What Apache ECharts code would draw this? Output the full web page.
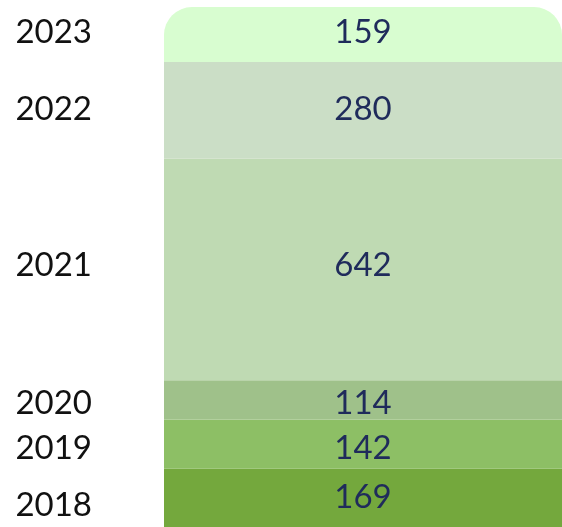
<!DOCTYPE html>
<html>
<head>
<meta charset="utf-8">
<script src="https://cdn.jsdelivr.net/npm/echarts@6/dist/echarts.min.js"></script>
<style>
  html, body { margin: 0; padding: 0; background: #fff; }
  #chart { width: 562px; height: 527px; }
</style>
</head>
<body>
<div id="chart"></div>
<script>
// bottom to top
var years = ['2018', '2019', '2020', '2021', '2022', '2023'];
var values = [169, 142, 114, 642, 280, 159];

var colors = ['#74a83d', '#8dbf65', '#9fc18a', '#bfdab3', '#cbdec6', '#d8fdd0'];
// small vertical nudges for the labels (px)
var yearNudge = [8, 4, 3, -4, -1, -2];
var valueNudge = [0, 4, 3, -4, -1, -2];

var total = values.reduce(function (a, b) { return a + b; }, 0);

var chart = echarts.init(document.getElementById('chart'));

var series = [];
years.forEach(function (y, i) {
    series.push({
        name: y,
        type: 'bar',
        stack: 'vals',
        barWidth: '100%',
        barGap: '-100%',
        data: [values[i]],
        itemStyle: {
            color: colors[i],
            borderRadius: i === years.length - 1 ? [28, 28, 0, 0] : 0
        },
        label: {
            show: true,
            position: 'inside',
            color: '#1f2b5b',
            fontFamily: 'Lato',
            fontSize: 33,
            offset: [0, valueNudge[i]]
        },
        silent: true
    });
});
// year labels on a transparent stack laid over the bars
years.forEach(function (y, i) {
    series.push({
        name: 'lbl' + y,
        type: 'bar',
        stack: 'labels',
        barWidth: '100%',
        barGap: '-100%',
        data: [values[i]],
        itemStyle: { color: 'rgba(0,0,0,0)' },
        label: {
            show: true,
            position: 'left',
            distance: 72,
            formatter: y,
            color: '#111',
            fontFamily: 'Lato',
            fontSize: 33,
            offset: [0, yearNudge[i]]
        },
        silent: true
    });
});

var option = {
    animation: false,
    grid: { left: 164, right: 0, top: 7, bottom: 0 },
    xAxis: { type: 'category', data: ['all'], show: false },
    yAxis: { type: 'value', min: 0, max: total, show: false },
    series: series
};
chart.setOption(option);
window.onresize = chart.resize;
</script>
</body>
</html>
